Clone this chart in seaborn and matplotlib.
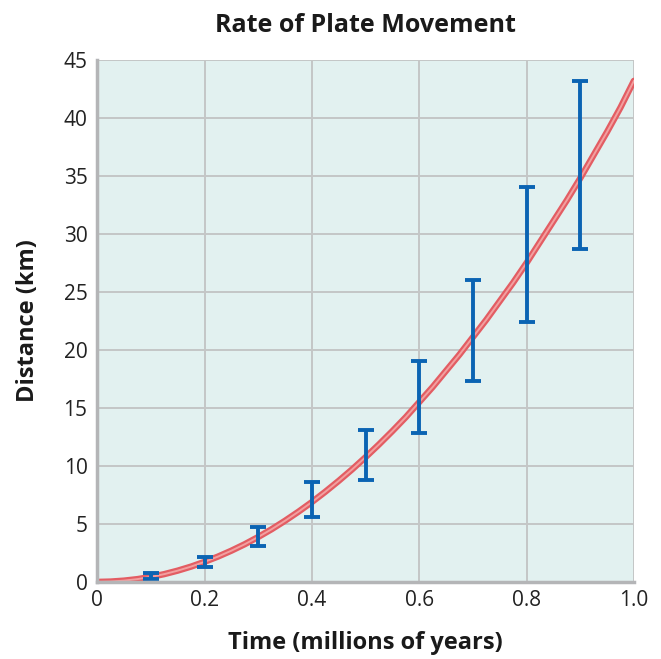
import numpy as np
import pandas as pd
import seaborn as sns
import matplotlib.pyplot as plt

# curve (distance in km vs time in millions of years)
curve_time = [0.0, 0.025, 0.05, 0.075, 0.1, 0.125, 0.15, 0.175, 0.2, 0.225,
              0.25, 0.275, 0.3, 0.325, 0.35, 0.375, 0.4, 0.425, 0.45, 0.475,
              0.5, 0.525, 0.55, 0.575, 0.6, 0.625, 0.65, 0.675, 0.7, 0.725,
              0.75, 0.775, 0.8, 0.825, 0.85, 0.875, 0.9, 0.925, 0.95, 0.975, 1.0]
curve_dist = [0.0, 0.03, 0.11, 0.24, 0.43, 0.67, 0.97, 1.32, 1.73, 2.18,
              2.69, 3.25, 3.87, 4.54, 5.27, 6.05, 6.88, 7.77, 8.71, 9.70,
              10.75, 11.85, 13.0, 14.2, 15.5, 16.8, 18.2, 19.6, 21.1, 22.6,
              24.2, 25.8, 27.5, 29.3, 31.1, 32.9, 34.8, 36.8, 38.8, 40.9, 43.2]

# error bars: low / high ends
bar_time = [0.1, 0.2, 0.3, 0.4, 0.5, 0.6, 0.7, 0.8, 0.9]
bar_low = [0.26, 1.3, 3.1, 5.6, 8.8, 12.8, 17.3, 22.4, 28.7]
bar_high = [0.8, 2.15, 4.7, 8.6, 13.1, 19.05, 26.0, 34.05, 43.2]

curve = pd.DataFrame({"time": curve_time, "dist": curve_dist})
bars = pd.DataFrame({"time": bar_time, "low": bar_low, "high": bar_high})
bars["mid"] = (bars["low"] + bars["high"]) / 2
bars["half"] = (bars["high"] - bars["low"]) / 2

sns.set_theme(style="white")
plt.rcParams["font.family"] = ["Open Sans", "DejaVu Sans"]

fig = plt.figure(figsize=(6.61, 6.59), dpi=100)
ax = fig.add_axes([0.147, 0.117, 0.812, 0.792])
ax.set_facecolor("#e2f1f0")

# red curve with lighter centre
sns.lineplot(data=curve, x="time", y="dist", ax=ax, color="#e35d63",
             linewidth=4.6, zorder=3)
sns.lineplot(data=curve, x="time", y="dist", ax=ax, color="#f2a0a0",
             linewidth=1.4, zorder=3)

ax.errorbar(bars["time"], bars["mid"], yerr=bars["half"], fmt="none",
            ecolor="#0b64b3", elinewidth=2.8, capsize=5.8, capthick=2.8,
            zorder=4)

ax.set_xlim(0, 1.0)
ax.set_ylim(0, 45)
ax.set_xticks([0, 0.2, 0.4, 0.6, 0.8, 1.0])
ax.set_xticklabels(["0", "0.2", "0.4", "0.6", "0.8", "1.0"])
ax.set_yticks(range(0, 50, 5))
ax.grid(True, color="#c4c6c6", linewidth=1.4, zorder=0)
ax.set_axisbelow(True)
ax.tick_params(axis="both", length=0, labelsize=15, colors="#222222")
ax.tick_params(axis="x", pad=6)
ax.tick_params(axis="y", pad=7)

for side in ["top", "right"]:
    ax.spines[side].set_visible(False)
for side in ["left", "bottom"]:
    ax.spines[side].set_color("#b4b5b7")
    ax.spines[side].set_linewidth(2.5)
    ax.spines[side].set_zorder(5)

ax.set_xlabel("Time (millions of years)", fontsize=17, fontweight="bold",
              color="#1a1a1a", labelpad=14)
ax.set_ylabel("Distance (km)", fontsize=17, fontweight="bold",
              color="#1a1a1a", labelpad=17)
ax.set_title("Rate of Plate Movement", fontsize=18, fontweight="bold",
             color="#1a1a1a", pad=20)

fig.savefig("out.png", dpi=100)
